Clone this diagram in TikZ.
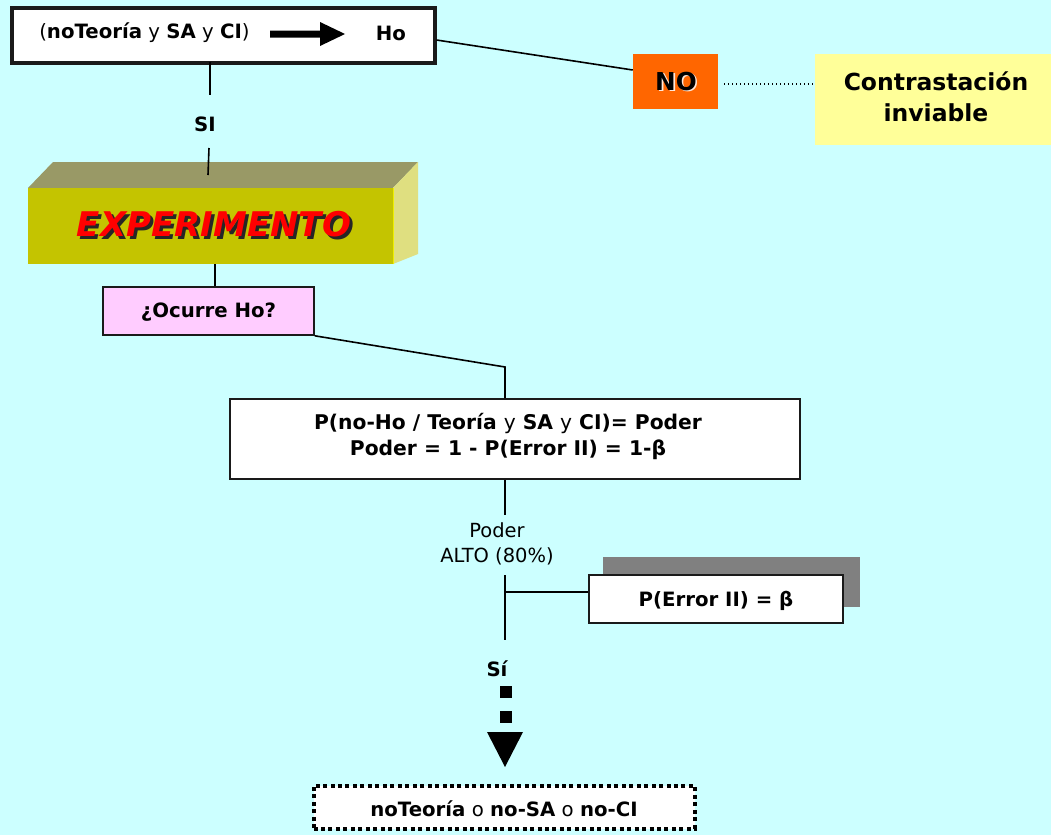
\documentclass[tikz,border=0pt]{standalone}
\usepackage{fontspec}
\setmainfont{DejaVu Sans}
\definecolor{bgc}{HTML}{CCFFFF}
\definecolor{orng}{HTML}{FF6600}
\definecolor{ylw}{HTML}{FFFF99}
\definecolor{pnk}{HTML}{FFCCFF}
\definecolor{olvfront}{HTML}{C4C400}
\definecolor{olvtop}{HTML}{999966}
\definecolor{olvside}{HTML}{DFDF80}
\definecolor{olvedge}{HTML}{EEEE00}
\definecolor{shd}{HTML}{808080}
\definecolor{frame}{HTML}{1A1A1A}
\tikzset{
  conn/.style={draw=black, line width=1.2pt},
  plainbox/.style={draw=frame, fill=white, line width=1.2pt, inner sep=0pt, align=center},
  boldtxt/.style={font=\bfseries\fontsize{14.8}{18}\selectfont, inner sep=0pt},
  lbl/.style={font=\fontsize{14.6}{17}\selectfont, inner sep=0pt, align=center},
}
\begin{document}
\begin{tikzpicture}[x=0.75pt,y=-0.75pt]
\fill[bgc] (0,0) rectangle (1051,835);
\useasboundingbox (0,0) rectangle (1051,835);

% top box
\node[plainbox, line width=2.3pt, minimum width=423*0.75pt, minimum height=55*0.75pt] (top) at (223.5,35.5) {};
\node[anchor=west, font=\fontsize{14.8}{18}\selectfont, inner sep=0pt] (toptxt) at (39,33) {(\textbf{noTeoría} y \textbf{SA} y \textbf{CI})};
\fill[black] (270,30.5) -- (320,30.5) -- (320,22) -- (345,34) -- (320,46) -- (320,37.5) -- (270,37.5) -- cycle;
\node[boldtxt] (ho) at (391,33) {Ho};

% NO box
\node[fill=orng, minimum width=85*0.75pt, minimum height=55*0.75pt, inner sep=0pt] (no) at (675.5,81.5) {};
\node[font=\bfseries\fontsize{18.5}{22}\selectfont, inner sep=0pt] (notxt) at (676,82) {\rlap{\raisebox{-1.2pt}{\kern1.2pt\color{white!85!orng}NO}}NO};

% yellow box
\node[fill=ylw, minimum width=236*0.75pt, minimum height=91*0.75pt, inner sep=0pt] (cont) at (933,99.5) {};
\node[font=\bfseries\fontsize{17.6}{23}\selectfont, inner sep=0pt, align=center] (conttxt) at (936,97) {Contrastación\\inviable};

\draw[conn] (top.east |- 0,40) -- (no.west |- 0,70);
\draw[black, line width=1pt, dotted] (724,84) -- (cont.west |- 0,84);

% SI connector
\node[boldtxt] (si) at (205,124) {SI};
\draw[conn] (210,62) -- (210,95);

% Experimento 3D box
\fill[olvtop] (28,188) -- (53,162) -- (418,162) -- (393,188) -- cycle;
\fill[olvside] (393,188) -- (418,162) -- (418,254) -- (393,264) -- cycle;
\draw[olvedge, line width=1pt] (393,188) -- (393,264);
\node[fill=olvfront, minimum width=365*0.75pt, minimum height=76*0.75pt, inner sep=0pt] (exp) at (210.5,226) {};
\draw[conn] (209,148) -- (208,175);
\node[font=\bfseries\itshape\fontsize{25.5}{30}\selectfont, inner sep=0pt] (exptxt) at (214,226) {\rlap{\raisebox{-2.2pt}{\kern2.2pt\color{black!85}EXPERIMENTO}}\color{red}EXPERIMENTO};

% Ocurre
\node[plainbox, fill=pnk, minimum width=211*0.75pt, minimum height=48*0.75pt] (ocu) at (208.5,311) {};
\node[boldtxt] (ocutxt) at (208.5,312) {¿Ocurre Ho?};
\draw[conn] (215,264) -- (ocu.north -| 215,0);

% P box
\node[plainbox, minimum width=570*0.75pt, minimum height=80*0.75pt] (pbox) at (515,439) {};
\node[boldtxt, align=center, font=\bfseries\fontsize{15.2}{19.5}\selectfont] (ptxt) at (508,437) {P(no-Ho / Teoría \textmd{y} SA \textmd{y} CI)= Poder\\Poder = 1 - P(Error II) = 1-β};
\coordinate (bend) at (505,367);
\draw[conn] (ocu.south east) -- (bend) -- (pbox.north -| bend);

% Poder labels
\node[lbl] (poder) at (497,530) {Poder};
\node[lbl] (alto) at (497,556) {ALTO (80\%)};
\draw[conn] (pbox.south -| bend) -- (505,515);
\draw[conn] (505,575) -- (505,640);

% Error box with shadow
\fill[shd] (603,557) rectangle (860,607);
\node[plainbox, minimum width=254*0.75pt, minimum height=48*0.75pt] (err) at (716,599) {};
\node[boldtxt] (errtxt) at (716,601) {P(Error II) = β};
\coordinate (branch) at (505,592);
\draw[conn] (branch) -- (err.west |- branch);

% Sí and dotted arrow
\node[boldtxt] (sii) at (497,669) {Sí};
\fill[black] (499.5,686) rectangle (511.5,698);
\fill[black] (499.5,711) rectangle (511.5,723);
\fill[black] (487,732) -- (523,732) -- (505,767) -- cycle;

% final dotted box
\node[draw=black, fill=white, line width=3pt, dash pattern=on 3pt off 2.6pt, minimum width=381*0.75pt, minimum height=43*0.75pt, inner sep=0pt] (fin) at (504,807) {};
\node[font=\fontsize{14.8}{18}\selectfont, inner sep=0pt] (fintxt) at (504,809) {\textbf{noTeoría} o \textbf{no-SA} o \textbf{no-CI}};
\end{tikzpicture}
\end{document}
